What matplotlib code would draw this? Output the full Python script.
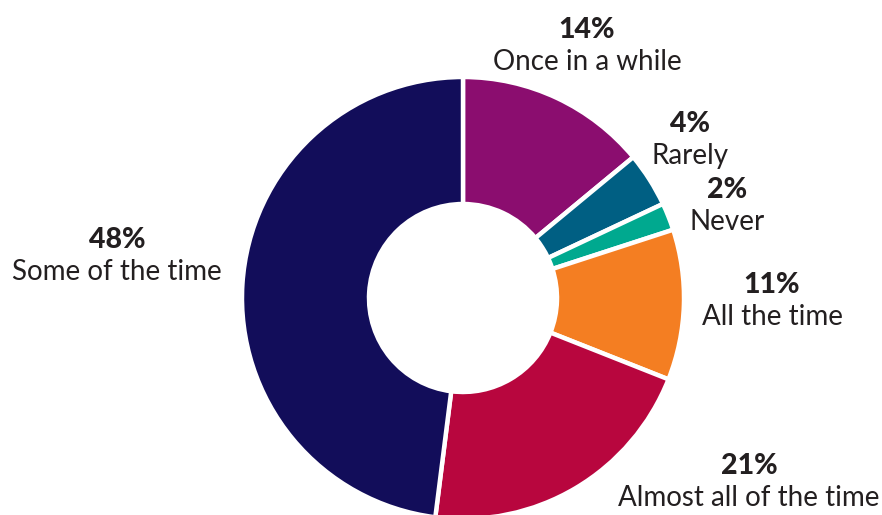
import matplotlib.pyplot as plt

labels = ["Once in a while", "Rarely", "Never", "All the time",
          "Almost all of the time", "Some of the time"]
shares = [14, 4, 2, 11, 21, 48]
colors = ["#8B0D6F", "#005F83", "#00A98F", "#F47E22", "#B8063E", "#120D5A"]

# where each caption block sits (pixel coords, origin top-left)
label_pos = [(587, 46), (690, 140), (727, 206), (772, 301), (749, 482), (117, 256)]

W, H = 882, 515
fig = plt.figure(figsize=(W / 100, H / 100), dpi=100)
ax = fig.add_axes([0, 0, 1, 1])

outer, inner = 221, 94
ax.pie(shares, colors=colors, startangle=90, counterclock=False,
       center=(463, H - 298), radius=outer,
       wedgeprops=dict(width=outer - inner, edgecolor="white", linewidth=3.2))
ax.set_xlim(0, W)
ax.set_ylim(0, H)
ax.axis("off")

txt = "#231F20"
for lab, val, (x, y) in zip(labels, shares, label_pos):
    ax.text(x, H - y + 16, f"{val}%", ha="center", va="center",
            fontsize=20.5, fontweight="black", family="Lato", color=txt)
    ax.text(x, H - y - 16, lab, ha="center", va="center",
            fontsize=20, family="Lato", color=txt)

fig.savefig("out.png", dpi=100)
